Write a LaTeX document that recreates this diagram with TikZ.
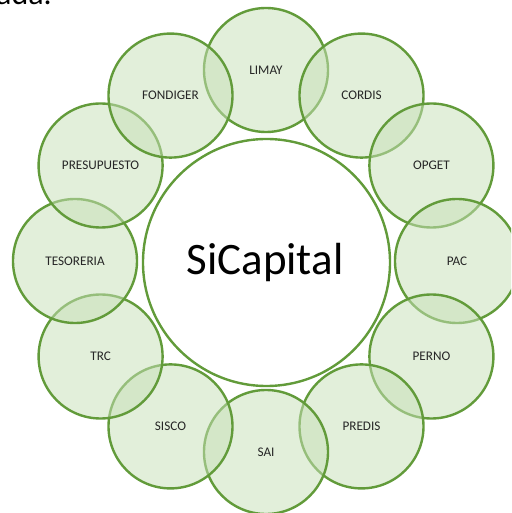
\documentclass[tikz,border=0pt]{standalone}
\usepackage{fontspec}
\setmainfont{Carlito}
\definecolor{ringgreen}{RGB}{98,155,58}
\definecolor{petalfill}{RGB}{199,224,184}
\begin{document}
\begin{tikzpicture}[x=1pt,y=1pt,
  petal/.style={circle, draw=ringgreen, line width=2.4pt, fill=petalfill,
    fill opacity=0.52, text opacity=1, minimum size=124pt, inner sep=0pt,
    font=\fontsize{13.2}{15}\selectfont, text=black!85},
  hub/.style={circle, draw=ringgreen, line width=2.4pt, fill=white,
    minimum size=247pt, inner sep=0pt}]
  % page frame, ring centre at the origin
  \useasboundingbox (-266,-252) rectangle (245,261);
  \clip (-266,-252) rectangle (245,261);

  % tail of a line of text running off the top edge
  \node[anchor=base west, inner sep=0pt, font=\fontsize{32}{34}\selectfont] (cut) at (-270,256) {ada.};

  % outer modules, clockwise from the top
  \node[petal] (limay)  at (90:191)  {LIMAY};
  \node[petal] (cordis) at (60:191)  {CORDIS};
  \node[petal] (opget)  at (30:191)  {OPGET};
  \node[petal] (pac)    at (0:191)   {PAC};
  \node[petal] (perno)  at (-30:191) {PERNO};
  \node[petal] (predis) at (-60:191) {PREDIS};
  \node[petal] (sai)    at (-90:191) {SAI};
  \node[petal] (sisco)  at (-120:191) {SISCO};
  \node[petal] (trc)    at (-150:191) {TRC};
  \node[petal] (tesor)  at (180:191) {TESORERIA};
  \node[petal] (presu)  at (150:191) {PRESUPUESTO};
  \node[petal] (fondi)  at (120:191) {FONDIGER};

  % central system
  \node[hub] (hub) at (0.5,-1.5) {};
  \node[anchor=base, inner sep=0pt, font=\fontsize{45}{50}\selectfont] (title) at (-1,-14) {SiCapital};
\end{tikzpicture}
\end{document}
